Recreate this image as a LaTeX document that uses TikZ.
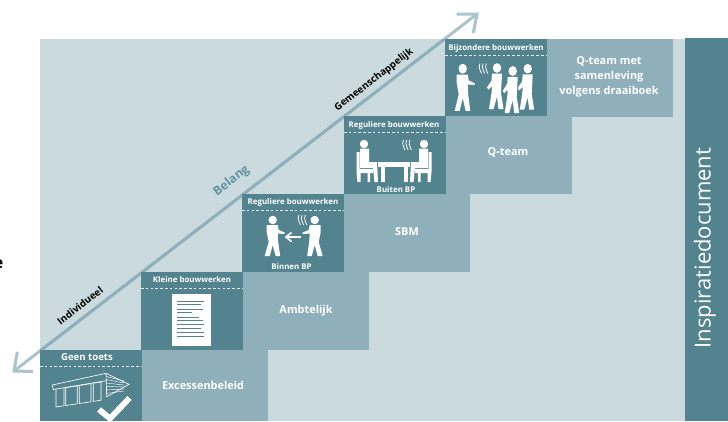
\documentclass[tikz,border=0pt]{standalone}
\usepackage{fontspec}
\setmainfont{Open Sans}
\definecolor{dk}{HTML}{53838F}
\definecolor{lt}{HTML}{8FB0BA}
\definecolor{bgc}{HTML}{CBDADF}
\definecolor{arr}{HTML}{A8C4CC}
\definecolor{arrd}{HTML}{8FB0BA}
\definecolor{bel}{HTML}{5F93A1}
\newcommand\walker[4]{\begin{scope}[shift={(#1,#2)},xscale=#3,yscale=#4]
\fill[white] (0,0) circle (4.2);
\fill[white] (-6,5)--(5,5)--(6,10)--(12,12.5)--(12,14)--(5,13.5)--(5.5,22)--(7.5,36)--(3,36)--(0,25)--(-3,36)--(-8,36)--(-4,22)--(-6,12)--cycle;
\end{scope}}
\newcommand\marcher[4]{\begin{scope}[shift={(#1,#2)},xscale=#3,yscale=#4]
\fill[white] (0,0) circle (4.2);
\fill[white] (-5,5)--(5,5)--(5.5,11)--(10,17)--(8.5,19)--(5,16)--(5.5,22)--(8,36)--(3.5,36)--(0,25)--(-1.5,36)--(-6.5,36)--(-4,22)--cycle;
\end{scope}}
\newcommand\sitter[3]{\begin{scope}[shift={(#1,#2)},xscale=#3]
\fill[white] (0,0) circle (4.2);
\fill[white] (-4,4.5)--(5,4.5)--(5,18)--(13,18)--(14,38)--(10.5,38)--(9,24)--(-4,24)--cycle;
\fill[white] (-7.5,8)--(-4.5,8)--(-4.5,25)--(9,25)--(9,29)--(6,29)--(6,38)--(3.5,38)--(3.5,29)--(-3.5,29)--(-3.5,38)--(-6.5,38)--(-7.5,28)--cycle;
\end{scope}}
\newcommand\waves[2]{\begin{scope}[shift={(#1,#2)}]
\foreach \dd in {0,3.2,6.4}{\draw[white,line width=.8pt] (\dd,0) .. controls (\dd-1.8,3.5) and (\dd,6.5) .. (\dd+1.5,10);}
\end{scope}}
\tikzset{
 x=1pt,y=-1pt,
 hdr/.style={text=white,font=\bfseries\fontsize{7.9}{9}\selectfont,inner sep=0pt},
 captxt/.style={text=white,font=\bfseries\fontsize{10.9}{14.7}\selectfont,inner sep=0pt,align=center},
 lab/.style={text=black,font=\bfseries\fontsize{9.8}{11}\selectfont,inner sep=0pt},
 dashline/.style={draw=white!85!dk,line width=.7pt,dash pattern=on 2.6pt off 2.2pt},
 axisline/.style={line width=3pt},
}
\newcommand\stepbox[3]{% x y(top) height
 \fill[dk] (#1,#2) rectangle ++(102,#3);
 \fill[lt] (#1+102,#2) rectangle ++(126,#3);
 \draw[dashline] (#1,#2+16.5) -- ++(102,0);
}
\newcommand\axisdraw[1]{%
 \draw[axisline,draw=#1] (lo) -- (hi);
 \draw[axisline,draw=#1,miter limit=10] (loa) -- (lo) -- (lob);
 \draw[axisline,draw=#1,miter limit=10] (hia) -- (hi) -- (hib);
}
\begin{document}
\begin{tikzpicture}
\useasboundingbox (0,0) rectangle (728,421);
\fill[white] (0,0) rectangle (728,421);
\fill[bgc] (40,39) rectangle (685,421);
\fill[dk] (685,38) rectangle (728,421);
% arrow
\coordinate (lo) at (14,371);
\coordinate (hi) at (477,14);
\coordinate (loa) at (17.3,351.7);
\coordinate (lob) at (33,371.5);
\coordinate (hia) at (456.7,14);
\coordinate (hib) at (473.3,33);
\axisdraw{arr}
\begin{scope}
\clip (40,39) rectangle (685,421);
\axisdraw{arrd}
\end{scope}
\stepbox{445}{38.5}{78}
\stepbox{344}{116}{78}
\stepbox{242}{194}{78}
\stepbox{141}{272}{78}
\stepbox{40}{350}{71}
\node[lab,rotate=37.6] (ind) at (80,305.5) {Individueel};
\node[text=bel,inner sep=0pt,rotate=37.6,font=\bfseries\fontsize{12.2}{14}\selectfont] (belang) at (231.5,181) {Belang};
\node[lab,rotate=37.6] (gem) at (374,80) {Gemeenschappelijk};
% headers
\node[hdr,font=\bfseries\fontsize{9.6}{11}\selectfont] (h1) at (87,357) {Geen toets};
\node[hdr] (h2) at (192,280) {Kleine bouwwerken};
\node[hdr] (h3) at (293,202.5) {Reguliere bouwwerken};
\node[hdr] (h4) at (394,125.5) {Reguliere bouwwerken};
\node[hdr] (h5) at (496,48) {Bijzondere bouwwerken};
\node[hdr] (s3) at (291.5,266.5) {Binnen BP};
\node[hdr] (s4) at (396,189.5) {Buiten BP};
% captions
\node[captxt] (c1) at (203,385.5) {Excessenbeleid};
\node[captxt] (c2) at (306,311) {Ambtelijk};
\node[captxt] (c3) at (407,232) {SBM};
\node[captxt] (c4) at (508,152) {Q-team};
\node[captxt] (c5) at (609,77) {Q-team met\\samenleving\\volgens draaiboek};
% side
\node[text=white,rotate=90,inner sep=0pt,font=\fontsize{22}{24}\selectfont] (side) at (705,248) {Inspiratiedocument};
% cut-off letter at the page edge
\begin{scope}
\clip (0,0) rectangle (728,421);
\node[text=black,inner sep=0pt,font=\bfseries\fontsize{16}{18}\selectfont] (cut) at (-1.5,264) {e};
\end{scope}
% document icon
\fill[white] (172,294.3) rectangle (210.7,346);
\foreach \y/\e in {301.3/204,304.3/200.7,309/202.7,312.7/192.3,317/199,320.3/202.7,324/204,328.3/200.7,332.7/204,336.7/204}
 \draw[dk,line width=.9pt] (177.3,\y) -- (\e,\y);
% building icon
\begin{scope}[white,line width=.65pt,line join=miter]
\draw (52.3,385) -- (106,373.3) -- (129,384.3) -- (106.7,396.7) -- (106,373.3);
\draw (52.3,385) -- (53.3,389.5) -- (106.3,380.7);
\draw (56,389) -- (56,407) -- (64,405.8) -- (64,388);
\draw (65.7,387.6) -- (65.7,405.5) -- (77.3,403.8) -- (77.3,385.8) -- cycle;
\draw (79.3,385.5) -- (79.3,403.5) -- (91,401.8) -- (91,383.5) -- cycle;
\draw (93.3,383.2) -- (93.3,401.4) -- (101,400.2) -- (101,382) -- cycle;
\foreach \y/\t in {376.5/381,379.5/383,383/385,386.5/387,390/389,393.5/391}
 \draw[line width=.45pt] (106.2,\y) -- (124,\t);
\end{scope}
\begin{scope}
\clip (0,0) rectangle (728,421);
\draw[white,line width=5.8pt,line join=miter] (99,409.5) -- (110,418.5) -- (129.5,398);
\end{scope}
% Binnen BP
\walker{272.7}{220}{1}{1}
\walker{314.7}{220}{-1}{1}
\waves{299}{215}
\draw[white,line width=2pt] (301,237) -- (287,237);
\draw[white,line width=1.7pt] (291.5,232.5) -- (286,237) -- (291.5,241.5);
% Buiten BP
\sitter{364}{144}{1}
\sitter{424}{144}{-1}
\fill[white] (378,162) rectangle (410,166.5);
\fill[white] (381,166) rectangle (385,182);
\fill[white] (404,166) rectangle (408,182);
\waves{403.5}{140}
% Bijzondere
\walker{462.7}{68.7}{1}{1.17}
\marcher{497}{68}{-1}{1.14}
\marcher{512.7}{71}{-1}{1.17}
\marcher{527.7}{68.7}{-1}{1.14}
\waves{480}{63.5}
\end{tikzpicture}
\end{document}
